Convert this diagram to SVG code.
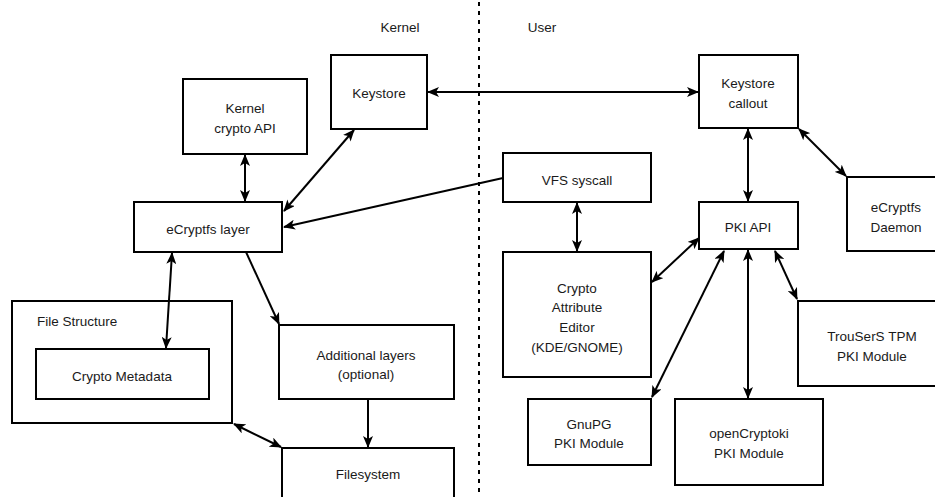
<svg xmlns="http://www.w3.org/2000/svg" width="935" height="497" viewBox="0 0 935 497">
<style>
  .box { fill: #ffffff; stroke: #000000; stroke-width: 2; }
  .t { font-family: "Liberation Sans", Arial, Helvetica, sans-serif; font-size: 13.5px; fill: #1a1a1a; text-anchor: middle; }
  .tl { text-anchor: start; }
  .c { fill: none; stroke: #000000; stroke-width: 2; }
  .both { marker-start: url(#ah); marker-end: url(#ah); }
  .one { marker-end: url(#ah); }
  .sep { fill: none; stroke: #000000; stroke-width: 2; stroke-dasharray: 4 5; }
</style>
<defs>
  <marker id="ah" viewBox="0 0 12 10" refX="11" refY="5" markerWidth="12" markerHeight="10" markerUnits="userSpaceOnUse" orient="auto-start-reverse">
    <path d="M0,0 L12,5 L0,10 L3,5 z" fill="#000000"/>
  </marker>
</defs>
<rect x="0" y="0" width="935" height="497" fill="#ffffff"/>

<line class="sep" x1="479" y1="2" x2="479" y2="497"/>
<text class="t" x="400" y="32">Kernel</text>
<text class="t" x="542" y="32">User</text>

<g id="file-structure">
  <rect class="box" x="12" y="301" width="220" height="122"/>
  <text class="t tl" x="37" y="326">File Structure</text>
</g>
<g id="crypto-metadata">
  <rect class="box" x="36" y="349" width="173" height="50"/>
  <text class="t" x="122" y="381">Crypto Metadata</text>
</g>
<g id="keystore">
  <rect class="box" x="331" y="55" width="96" height="74"/>
  <text class="t" x="379" y="98">Keystore</text>
</g>
<g id="kernel-crypto-api">
  <rect class="box" x="183" y="79" width="124" height="75"/>
  <text class="t" x="245" y="113">Kernel</text>
  <text class="t" x="245" y="133">crypto API</text>
</g>
<g id="ecryptfs-layer">
  <rect class="box" x="134" y="202" width="148" height="50"/>
  <text class="t" x="208" y="234">eCryptfs layer</text>
</g>
<g id="additional-layers">
  <rect class="box" x="279" y="325" width="175" height="74"/>
  <text class="t" x="366" y="360">Additional layers</text>
  <text class="t" x="366" y="379">(optional)</text>
</g>
<g id="filesystem">
  <rect class="box" x="282" y="448" width="172" height="52"/>
  <text class="t" x="368" y="479">Filesystem</text>
</g>
<g id="keystore-callout">
  <rect class="box" x="699" y="55" width="99" height="73"/>
  <text class="t" x="748" y="88">Keystore</text>
  <text class="t" x="748" y="108">callout</text>
</g>
<g id="vfs-syscall">
  <rect class="box" x="503" y="153" width="148" height="49"/>
  <text class="t" x="577" y="185">VFS syscall</text>
</g>
<g id="pki-api">
  <rect class="box" x="699" y="202" width="99" height="47"/>
  <text class="t" x="748" y="232">PKI API</text>
</g>
<g id="ecryptfs-daemon">
  <rect class="box" x="847" y="177" width="100" height="74"/>
  <text class="t" x="896" y="212">eCryptfs</text>
  <text class="t" x="896" y="232">Daemon</text>
</g>
<g id="crypto-attribute-editor">
  <rect class="box" x="503" y="252" width="148" height="125"/>
  <text class="t" x="577" y="293">Crypto</text>
  <text class="t" x="577" y="312">Attribute</text>
  <text class="t" x="577" y="332">Editor</text>
  <text class="t" x="577" y="352">(KDE/GNOME)</text>
</g>
<g id="trousers">
  <rect class="box" x="798" y="301" width="150" height="85"/>
  <text class="t" x="872" y="341">TrouSerS TPM</text>
  <text class="t" x="872" y="361">PKI Module</text>
</g>
<g id="gnupg">
  <rect class="box" x="528" y="399" width="123" height="66"/>
  <text class="t" x="589" y="429">GnuPG</text>
  <text class="t" x="589" y="448">PKI Module</text>
</g>
<g id="opencryptoki">
  <rect class="box" x="675" y="399" width="148" height="86"/>
  <text class="t" x="749" y="438">openCryptoki</text>
  <text class="t" x="749" y="458">PKI Module</text>
</g>

<g id="connectors">
  <line class="c both" x1="245" y1="155" x2="245" y2="201"/>
  <line class="c both" x1="354" y1="130" x2="284" y2="211"/>
  <line class="c one" x1="503" y1="178" x2="284" y2="227"/>
  <line class="c both" x1="428" y1="92" x2="698" y2="92"/>
  <line class="c both" x1="748" y1="129" x2="748" y2="201"/>
  <line class="c both" x1="799" y1="129" x2="846" y2="176"/>
  <line class="c both" x1="577" y1="203" x2="577" y2="251"/>
  <line class="c both" x1="699" y1="238" x2="652" y2="282"/>
  <line class="c both" x1="724" y1="251" x2="652" y2="397"/>
  <line class="c both" x1="748" y1="250" x2="748" y2="398"/>
  <line class="c both" x1="775" y1="251" x2="797" y2="299"/>
  <line class="c both" x1="172" y1="253" x2="166" y2="348"/>
  <line class="c one" x1="246" y1="252" x2="279" y2="324"/>
  <line class="c one" x1="368" y1="400" x2="368" y2="447"/>
  <line class="c both" x1="234" y1="424" x2="281" y2="447"/>
</g>
</svg>
